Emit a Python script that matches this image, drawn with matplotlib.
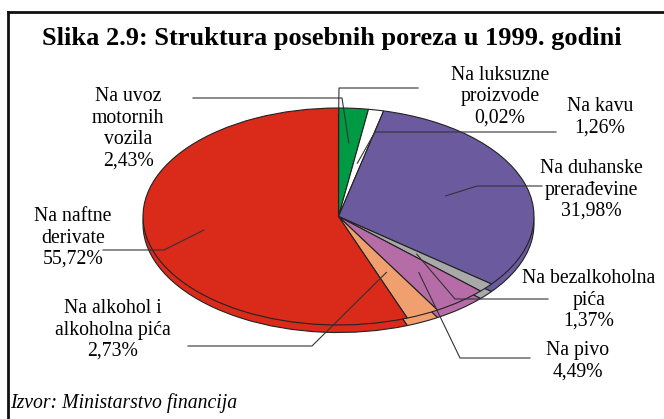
import matplotlib
matplotlib.use("Agg")
import matplotlib.pyplot as plt
import numpy as np

plt.rcParams['font.family'] = ['Liberation Serif', 'DejaVu Serif']

# data (order as drawn, clockwise from the top)
labels = ['Na luksuzne\nproizvode', 'Na uvoz\nmotornih\nvozila', 'Na kavu',
          'Na duhanske\nprerađevine', 'Na bezalkoholna\npića', 'Na pivo',
          'Na alkohol i\nalkoholna pića', 'Na naftne\nderivate']
shares = [0.02, 2.43, 1.26, 31.98, 1.37, 4.49, 2.73, 55.72]
colors = ['#ffffff', '#009a45', '#ffffff', '#6b5b9e', '#a9a9a9', '#b66ca6', '#f0a06e', '#d92a1a']

# layout of labels (image pixels): text centre, elbow point, line end, anchor radius
text_pos = [(500, 97), (128, 129), (600, 117), (591, 190), (589, 300), (578, 361), (113, 330), (73, 238)]
elbows = [(339, 88), (342, 98), (375, 132), (477, 186), (455, 299), (460, 358), (312, 346), (164, 250)]
ends = [(418, 88), (193, 98), (556, 132), (542, 186), (548, 299), (530, 358), (188, 346), (103, 250)]
anchor_r = [0.95, 0.68, 0.5, 0.58, 0.53, 0.66, 0.57, 0.7]

W, H = 664, 419
cx, cy, a, b = 338.5, 216.5, 195.5, 108.5
depth = 7.5 / b

fig = plt.figure(figsize=(W / 100, H / 100), dpi=100)
ax = fig.add_axes([(cx - a) / W, (H - cy - b) / H, 2 * a / W, 2 * b / H])

wp = dict(edgecolor='#222222', linewidth=0.8)
low, _ = ax.pie(shares, colors=colors, startangle=90, counterclock=False,
                center=(0, -depth), wedgeprops=wp)
top, _ = ax.pie(shares, colors=colors, startangle=90, counterclock=False,
                wedgeprops=wp)
for w in low + top:
    w.set_clip_on(False)
ax.set_aspect('auto')
ax.set_xlim(-1, 1)
ax.set_ylim(-1, 1)
ax.axis('off')


def to_data(px, py):
    return (px - cx) / a, (cy - py) / b


cum = np.cumsum([0] + shares[:-1])
for i, lab in enumerate(labels):
    mid = np.deg2rad(90 - (cum[i] + shares[i] / 2) * 3.6)
    ax_, ay_ = anchor_r[i] * np.cos(mid), anchor_r[i] * np.sin(mid)
    ex, ey = to_data(*elbows[i])
    tx, ty = to_data(*ends[i])
    ax.plot([ax_, ex, tx], [ay_, ey, ty], color='#333333', lw=0.8, clip_on=False)
    pct = f"{shares[i]:.2f}%".replace('.', ',')
    fig.text(text_pos[i][0] / W, 1 - text_pos[i][1] / H, lab + '\n' + pct,
             ha='center', va='center', fontsize=14.2, linespacing=1.17)

fig.text(332 / W, 1 - 38 / H, 'Slika 2.9: Struktura posebnih poreza u 1999. godini',
         ha='center', va='center', fontsize=19, fontweight='bold')
fig.text(10 / W, 1 - 403 / H, 'Izvor: Ministarstvo financija',
         ha='left', va='center', fontsize=14.2, style='italic')

# frame
fig.add_artist(plt.Line2D([8 / W, 8 / W], [0, 1 - 12.5 / H], color='#111111', lw=2, transform=fig.transFigure))
fig.add_artist(plt.Line2D([8 / W, 1], [1 - 12.5 / H, 1 - 12.5 / H], color='#111111', lw=2, transform=fig.transFigure))

fig.savefig('out.png', dpi=100)
